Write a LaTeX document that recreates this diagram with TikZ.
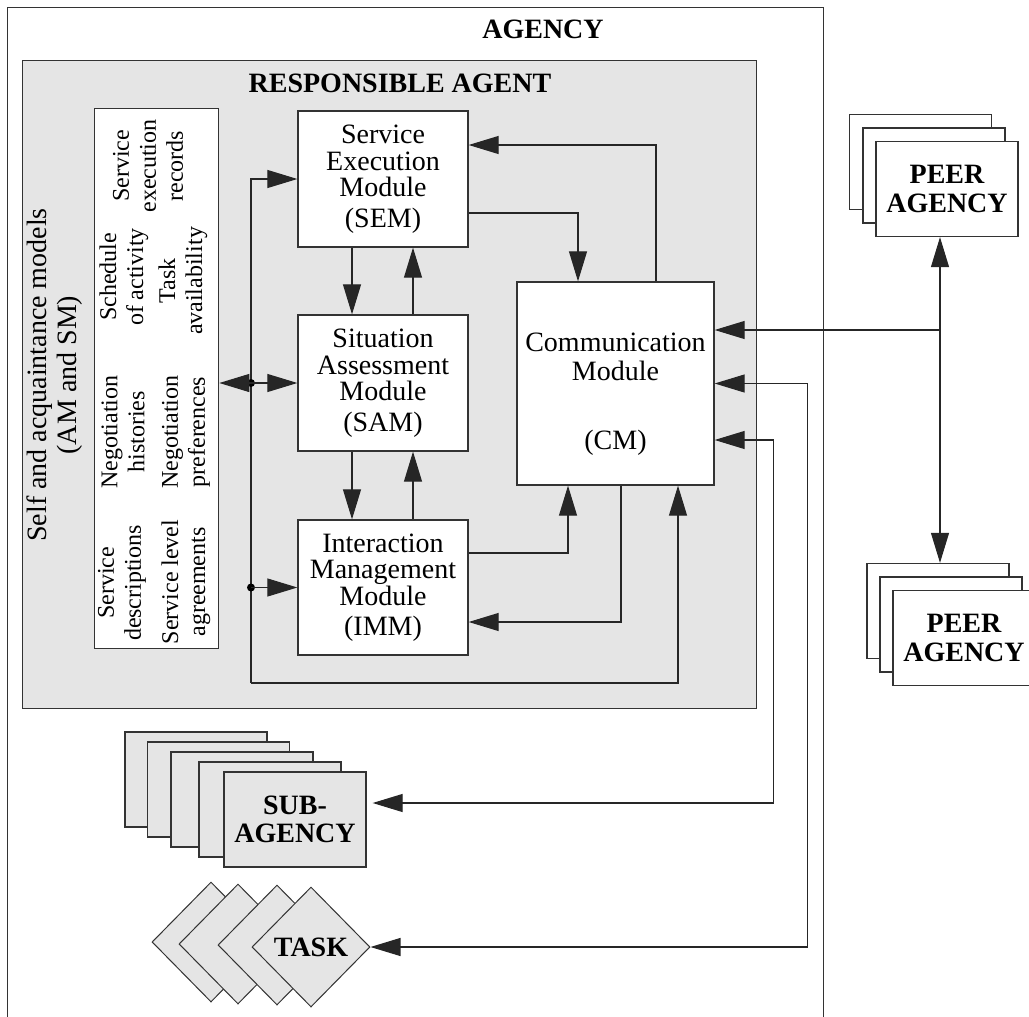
\documentclass[tikz,border=0pt]{standalone}
\usepackage{fontspec}
\setmainfont{Liberation Serif}
\usetikzlibrary{arrows.meta,calc,shapes.geometric}

\begin{document}
\begin{tikzpicture}[x=1pt,y=-1pt,
  line/.style={draw=black!85, line width=1.1pt},
  arr/.style={line, -{Triangle[length=30pt,width=18pt]}},
  darr/.style={line, {Triangle[length=30pt,width=18pt]}-{Triangle[length=30pt,width=18pt]}},
  box/.style={draw=black!80, line width=1.3pt, fill=white, inner sep=0pt},
  module/.style={box, minimum width=170pt, minimum height=136pt, align=center,
    font=\fontsize{28pt}{26.5pt}\selectfont},
  model/.style={rotate=90, align=center, inner sep=0pt,
    font=\fontsize{24pt}{27pt}\selectfont},
  title/.style={inner sep=0pt, align=center, font=\fontsize{28pt}{28pt}\selectfont\bfseries},
  card/.style={box, minimum width=142pt, minimum height=95pt, align=center,
    font=\fontsize{28pt}{28.5pt}\selectfont\bfseries},
  subcard/.style={card, fill=gray!20},
  taskshape/.style={diamond, draw=black!80, line width=1pt, fill=gray!20, inner sep=0pt,
    minimum width=118pt, minimum height=120pt,
    font=\fontsize{28pt}{28pt}\selectfont\bfseries},
  junction/.style={circle, fill=black, inner sep=0pt, minimum size=8pt},
]
\clip (0,0) rectangle (1029,1017);

% agency frame, open at the bottom
\node[box, anchor=north west, minimum width=816pt, minimum height=1040pt] (agency) at (7,7) {};
\node[title] (agencylabel) at (543,29) {AGENCY};

% responsible agent
\node[box, fill=gray!20, anchor=north west, minimum width=734pt, minimum height=648pt] (ra) at (22,60) {};
\node[title] (ralabel) at (400,83) {RESPONSIBLE AGENT};

% self and acquaintance models
\node[model, font=\fontsize{28pt}{30pt}\selectfont] (amsm) at (55,375)
  {Self and acquaintance models\\(AM and SM)};
\node[box, anchor=north west, minimum width=124pt, minimum height=540pt] (models) at (94,108) {};
\node[model] (serec) at (148,166) {Service\\execution\\records};
\node[model] (sched) at (124,277) {Schedule\\of activity};
\node[model] (taskav) at (183,281) {Task\\availability};
\node[model] (neghist) at (123,432) {Negotiation\\histories};
\node[model] (negpref) at (186,432) {Negotiation\\preferences};
\node[model] (servdesc) at (122,583) {Service\\descriptions};
\node[model] (sla) at (186,582) {Service level\\agreements};

% modules
\node[module] (sem) at (383,179) {Service\\Execution\\Module\\[4pt](SEM)};
\node[module] (sam) at (383,383) {Situation\\Assessment\\Module\\[4pt](SAM)};
\node[module, minimum height=135pt] (imm) at (383,587.5) {Interaction\\Management\\Module\\[4pt](IMM)};
\node[box, minimum width=197pt, minimum height=203pt] (cm) at (615.5,383.5) {};
\node[inner sep=0pt, align=center, font=\fontsize{28pt}{29pt}\selectfont] (cmtext) at (615.5,394)
  {Communication\\Module\\[40pt](CM)};

% peer agencies
\node[card] (pa1) at (920.5,162) {};
\node[card] (pa2) at (934,175.5) {};
\node[card] (pa3) at (947,189) {PEER\\AGENCY};
\node[card] (pb1) at (938,611) {};
\node[card] (pb2) at (951,624.5) {};
\node[card] (pb3) at (964,638) {PEER\\AGENCY};

% sub-agencies
\node[subcard] (sub1) at (196,779.5) {};
\node[subcard] (sub2) at (218.5,789.5) {};
\node[subcard] (sub3) at (242,799.5) {};
\node[subcard] (sub4) at (270,809.5) {};
\node[subcard] (sub5) at (295,819.5) {SUB-\\AGENCY};

% tasks
\node[taskshape] (task1) at (211,942) {};
\node[taskshape] (task2) at (238,944) {};
\node[taskshape] (task3) at (277,945) {};
\node[taskshape] (task) at (311,947) {TASK};

% links between modules
\draw[arr] ($(sem.south)+(-31,0)$) -- ($(sam.north)+(-31,0)$);
\draw[arr] ($(sam.north)+(30,0)$) -- ($(sem.south)+(30,0)$);
\draw[arr] ($(sam.south)+(-31,0)$) -- ($(imm.north)+(-31,0)$);
\draw[arr] ($(imm.north)+(30,0)$) -- ($(sam.south)+(30,0)$);
\draw[arr] ($(sem.east)+(0,34)$) -| ($(cm.north)+(-37.5,0)$);
\draw[arr] ($(cm.north)+(40.5,0)$) |- ($(sem.east)+(0,-34)$);
\draw[arr] ($(imm.east)+(0,-34.5)$) -| ($(cm.south)+(-47.5,0)$);
\draw[arr] ($(cm.south)+(5.5,0)$) |- ($(imm.east)+(0,34.5)$);

% model bus
\coordinate (busB) at (251,683);
\draw[arr] (busB) |- (sem.west);
\draw[arr] (busB) -| ($(cm.south)+(62.5,0)$);
\node[junction] (dsam) at (251,383) {};
\node[junction] (dimm) at (251,587.5) {};
\draw[arr] (dsam.center) -- (sam.west);
\draw[arr] (dsam.center) -- (models.east |- dsam.center);
\draw[arr] (dimm.center) -- (imm.west);

% external links
\coordinate (pj) at (940,330);
\draw[darr] (pj |- pa3.south) -- (pj |- pb1.north);
\draw[arr] (pj) -- (cm.east |- pj);
\draw[darr] (task.east) -| ($(cm.east)+(93,0)$) -- (cm.east);
\draw[darr, shorten <=6pt] ($(sub5.east)+(0,-16.5)$) -| ($(cm.east)+(59,56.5)$) -- ($(cm.east)+(0,56.5)$);
\end{tikzpicture}
\end{document}
